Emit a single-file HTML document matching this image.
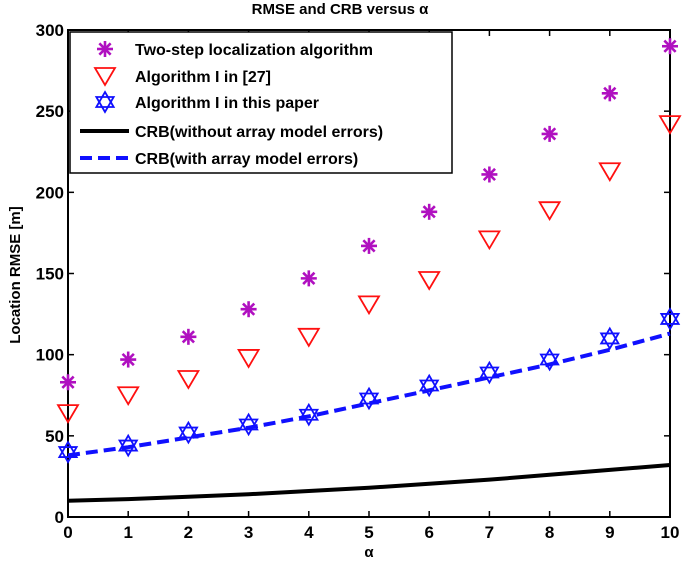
<!DOCTYPE html>
<html><head><meta charset="utf-8"><style>
body{margin:0;background:#fff;}
svg{display:block;font-family:"Liberation Sans",Arial,sans-serif;font-weight:bold;}
</style></head><body>
<svg id="chart" width="685" height="565" viewBox="0 0 685 565" xmlns="http://www.w3.org/2000/svg">
<text x="340" y="14" text-anchor="middle" font-size="15">RMSE and CRB versus α</text>
<text transform="translate(20,275) rotate(-90)" text-anchor="middle" font-size="15">Location RMSE [m]</text>
<text x="369" y="557" text-anchor="middle" font-size="15">α</text>
<g id="axes"></g>
<g id="series"></g>
<g id="legend">
<rect x="70" y="32" width="382" height="141" fill="#fff" stroke="#000" stroke-width="1.5"/>
</g>
</svg>
<script>
const alphas=[0,1,2,3,4,5,6,7,8,9,10];
const twoStep=[83,97,111,128,147,167,188,211,236,261,290];
const alg27=[64,75,85,98,111,131,146,171,189,213,242];
const algPaper=[40,44,52,57,63,73,81,89,97,110,122];
const crbWith=[38,43,49,55,62,70,78,86,94,103,113];
const crbWithout=[10,11,12.5,14,16,18,20.5,23,26,29,32];
const xTicks=[0,1,2,3,4,5,6,7,8,9,10];
const yTicks=[0,50,100,150,200,250,300];

const NS='http://www.w3.org/2000/svg';
const L=68,R=670,T=30,B=517;
const xs=v=>L+(v-0)/10*(R-L);
const ys=v=>B-(v/300)*(B-T);
function mk(tag,attrs,parent){const e=document.createElementNS(NS,tag);for(const k in attrs)e.setAttribute(k,attrs[k]);parent.appendChild(e);return e;}
const axes=document.getElementById('axes'),ser=document.getElementById('series'),leg=document.getElementById('legend');

const frame=mk('rect',{x:L,y:T,width:R-L,height:B-T,fill:'none',stroke:'#000','stroke-width':2},axes);


xTicks.forEach(t=>{
  const x=xs(t);
  mk('line',{x1:x,y1:B,x2:x,y2:B-6,stroke:'#000','stroke-width':1.5},axes);
  mk('line',{x1:x,y1:T,x2:x,y2:T+6,stroke:'#000','stroke-width':1.5},axes);
  const tx=mk('text',{x:x,y:B+21,'text-anchor':'middle','font-size':17},axes);
  tx.textContent=t;
  
  
});
yTicks.forEach(t=>{
  const y=ys(t);
  mk('line',{x1:L,y1:y,x2:L+6,y2:y,stroke:'#000','stroke-width':1.5},axes);
  mk('line',{x1:R,y1:y,x2:R-6,y2:y,stroke:'#000','stroke-width':1.5},axes);
  const tx=mk('text',{x:L-4,y:y+6,'text-anchor':'end','font-size':17},axes);
  tx.textContent=t;
  
  
});

function path(vals){return vals.map((v,i)=>(i?'L':'M')+xs(alphas[i])+' '+ys(v)).join(' ');}
const l1=mk('path',{d:path(crbWithout),fill:'none',stroke:'#000','stroke-width':4},ser);


const l2=mk('path',{d:path(crbWith),fill:'none',stroke:'#1010ff','stroke-width':4,'stroke-dasharray':'12 6'},ser);



function asterisk(x,y,p){const g=mk('g',{stroke:'#b010c0','stroke-width':2.6},p);
  for(let a=0;a<4;a++){const an=a*Math.PI/4,r=8;mk('line',{x1:x-r*Math.cos(an),y1:y-r*Math.sin(an),x2:x+r*Math.cos(an),y2:y+r*Math.sin(an)},g);}return g;}
function tri(x,y,p){return mk('path',{d:`M${x-10} ${y-8} L${x+10} ${y-8} L${x} ${y+9} Z`,fill:'none',stroke:'#ff1010','stroke-width':1.8},p);}
function hexa(x,y,p){const r=10;const g=mk('g',{fill:'none',stroke:'#1010ff','stroke-width':1.8},p);
  const pts=s=>[0,1,2].map(i=>{const a=s+i*2*Math.PI/3;return (x+r*Math.sin(a))+','+(y-r*Math.cos(a));}).join(' ');
  mk('polygon',{points:pts(0)},g);mk('polygon',{points:pts(Math.PI)},g);return g;}

twoStep.forEach((v,i)=>{const m=asterisk(xs(alphas[i]),ys(v),ser);
  
  });
alg27.forEach((v,i)=>{const m=tri(xs(alphas[i]),ys(v),ser);
  
  });
algPaper.forEach((v,i)=>{const m=hexa(xs(alphas[i]),ys(v),ser);
  
  });

const labels=['Two-step localization algorithm','Algorithm I in [27]','Algorithm I in this paper','CRB(without array model errors)','CRB(with array model errors)'];
const ly=[49,76,102,131,158];
labels.forEach((t,i)=>{
  const y=ly[i];
  let m;
  if(i===0)m=asterisk(105,y,leg);
  else if(i===1)m=tri(105,y,leg);
  else if(i===2)m=hexa(105,y,leg);
  else if(i===3)m=mk('line',{x1:80,y1:y,x2:129,y2:y,stroke:'#000','stroke-width':4},leg);
  else m=mk('line',{x1:80,y1:y,x2:129,y2:y,stroke:'#1010ff','stroke-width':4,'stroke-dasharray':'12 6'},leg);
  
  
  const tx=mk('text',{x:135,y:y+6,'font-size':16},leg);
  tx.textContent=t;
  
  
});
</script>
</body></html>
